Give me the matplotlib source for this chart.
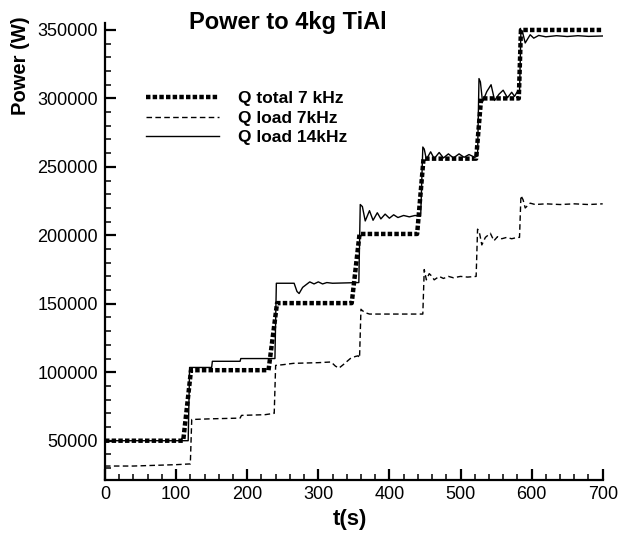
import matplotlib
matplotlib.use("Agg")
import matplotlib.pyplot as plt
from matplotlib.ticker import MultipleLocator

plt.rcParams['font.family'] = ['Liberation Sans', 'DejaVu Sans']

# Q total 7 kHz
t_total = [0, 110, 121, 230, 242, 347, 358, 439, 448, 522, 529, 582, 585, 700]
p_total = [50000, 50000, 101500, 101500, 150500, 150500, 201000, 201000,
           256000, 256000, 300000, 300000, 350000, 350000]

# Q load 7kHz
t_load7 = [0, 40, 70, 100, 118, 120, 122, 150, 190, 192, 225, 238, 240, 250, 265,
           300, 318, 324, 329, 335, 345, 352, 356, 358, 360, 362, 366, 372, 400,
           447, 449, 452, 456, 459, 463, 470, 476, 483, 490, 500, 510, 522, 524,
           527, 530, 535, 542, 547, 552, 558, 565, 572, 580, 583, 585, 588, 591,
           598, 605, 620, 640, 660, 680, 700]
p_load7 = [31500, 31500, 32000, 32500, 33000, 33000, 65500, 66000, 66500, 68500,
           69000, 70000, 105000, 105500, 106500, 107000, 107500, 104500, 103000,
           105500, 110000, 111500, 112000, 110500, 146000, 145000, 143500, 142500,
           142500, 142500, 175000, 167500, 172000, 170500, 167500, 170000, 168500,
           170000, 169000, 170000, 169500, 170000, 204500, 201000, 193000, 198500,
           201500, 196000, 199000, 197500, 198500, 197500, 198500, 198500, 229000,
           226000, 220000, 223500, 222500, 223000, 222500, 223000, 222500, 223000]

# Q load 14kHz
t_load14 = [0, 117, 119, 150, 151, 190, 191, 239, 241, 266, 270, 273, 278, 288, 294,
            300, 306, 312, 320, 357, 359, 362, 366, 372, 377, 383, 388, 394, 400,
            406, 412, 420, 428, 436, 444, 447, 449, 452, 458, 463, 470, 476, 483,
            490, 498, 505, 512, 520, 524, 526, 528, 531, 537, 543, 548, 554, 560,
            566, 572, 576, 580, 583, 585, 587, 591, 598, 603, 610, 620, 635, 650,
            665, 680, 700]
p_load14 = [50000, 50000, 103500, 103500, 108000, 108000, 110000, 110000, 165000,
            165000, 159000, 157500, 162000, 166000, 164500, 166000, 164500, 165500,
            165000, 165500, 222500, 221000, 210500, 218000, 211000, 216500, 212000,
            215500, 212500, 215000, 213000, 214500, 213500, 214500, 214000, 264500,
            263000, 255500, 261000, 256000, 260500, 256500, 259500, 256500, 259500,
            257000, 259000, 257000, 258000, 314500, 312000, 297500, 305000, 310000,
            298500, 303000, 306000, 300500, 304500, 301500, 305000, 304000, 350000,
            349000, 340500, 346500, 344000, 346000, 345000, 345800, 345200, 345800,
            345300, 345600]

labels = ["Q total 7 kHz", "Q load 7kHz", "Q load 14kHz"]
x_ticks = [0, 100, 200, 300, 400, 500, 600, 700]
y_ticks = [50000, 100000, 150000, 200000, 250000, 300000, 350000]

W, H = 626, 533
fig = plt.figure(figsize=(W / 100, H / 100), dpi=100)
ax = fig.add_axes([105 / W, (H - 480) / H, (602.7 - 105) / W, (480 - 22.7) / H])

l1, = ax.plot(t_total, p_total, color='black', lw=3.2,
              linestyle=(0, (1.0, 0.5)), dash_capstyle='butt', zorder=3)
l2, = ax.plot(t_load7, p_load7, color='black', lw=1.0,
              linestyle=(0, (4.0, 2.4)), zorder=2)
l3, = ax.plot(t_load14, p_load14, color='black', lw=1.0, zorder=2)

ax.set_xlim(0, 700)
ax.set_ylim(21300, 355300)
ax.set_xticks(x_ticks)
ax.set_xticklabels([str(v) for v in x_ticks])
ax.set_yticks(y_ticks)
ax.set_yticklabels([str(v) for v in y_ticks])
ax.xaxis.set_minor_locator(MultipleLocator(20))
ax.yaxis.set_minor_locator(MultipleLocator(10000))

for s in ['top', 'right']:
    ax.spines[s].set_visible(False)
for s in ['left', 'bottom']:
    ax.spines[s].set_linewidth(1.6)

ax.tick_params(which='major', direction='in', length=8, width=1.6,
               labelsize=13, pad=4)
ax.tick_params(axis='y', which='major', pad=5)
ax.tick_params(which='minor', direction='in', length=4.5, width=1.1)

fig.text(288 / W, 1 - 22 / H, "Power to 4kg TiAl", ha='center', va='center',
         fontsize=17, fontweight='bold')
fig.text(21 / W, 1 - 66 / H, "Power (W)", ha='center', va='center',
         rotation=90, fontsize=14.5, fontweight='bold')
fig.text(350 / W, 1 - 520 / H, "t(s)", ha='center', va='center',
         fontsize=16, fontweight='bold')

fig.legend([l1, l2, l3], labels, loc='upper left',
           bbox_to_anchor=(146 / W, 1 - 91 / H), bbox_transform=fig.transFigure,
           frameon=False, borderpad=0, borderaxespad=0,
           handlelength=4.2, handletextpad=1.1, labelspacing=0.25,
           prop={'size': 12.5, 'weight': 'bold'})

fig.savefig("out.png", dpi=100)
